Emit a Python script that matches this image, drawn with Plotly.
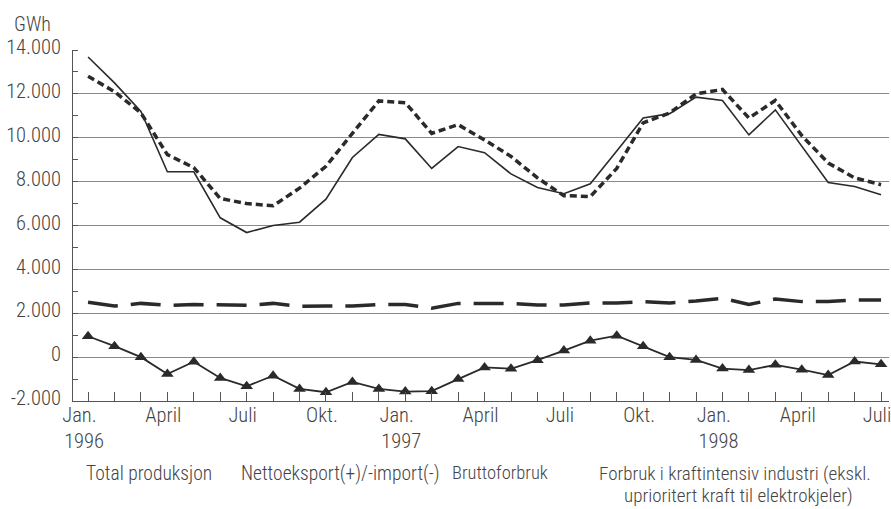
import plotly.graph_objects as go

months = list(range(31))
tick_pos = [0, 3, 6, 9, 12, 15, 18, 21, 24, 27, 30]
NB = "\u00a0\u00a0"
tick_text = ["Jan." + NB + "<br>1996", "April", "Juli", "Okt.", "Jan." + NB + "<br>1997", "April", "Juli",
             "Okt.", "Jan." + NB + "<br>1998", "April", "Juli"]
y_tickvals = [-2000, 0, 2000, 4000, 6000, 8000, 10000, 12000, 14000]
y_ticktext = ["-2.000", "0", "2.000", "4.000", "6.000", "8.000", "10.000", "12.000", "14.000"]

total_produksjon = [13680, 12500, 11200, 8450, 8450, 6350, 5680, 6000, 6150, 7200, 9100,
                    10150, 9950, 8600, 9600, 9320, 8350, 7730, 7450, 7900, 9400, 10900,
                    11100, 11850, 11700, 10130, 11270, 9630, 7960, 7780, 7400]
bruttoforbruk = [12800, 12100, 11130, 9230, 8640, 7230, 7000, 6900, 7700, 8700, 10200,
                 11680, 11600, 10200, 10600, 9900, 9150, 8170, 7360, 7320, 8600, 10680,
                 11130, 12000, 12200, 10900, 11700, 10100, 8850, 8170, 7860]
industri = [2500, 2330, 2450, 2360, 2400, 2360, 2360, 2450, 2320, 2330, 2330, 2400, 2400,
            2230, 2450, 2450, 2450, 2380, 2380, 2470, 2470, 2530, 2470, 2560, 2680, 2400,
            2650, 2530, 2530, 2600, 2600]
nettoeksport = [950, 500, 0, -770, -210, -950, -1330, -850, -1450, -1600, -1130, -1450,
                -1570, -1550, -1000, -470, -530, -140, 300, 750, 980, 500, 0, -130, -520,
                -590, -350, -570, -820, -200, -330]

series_names = ["Total produksjon", "Nettoeksport(+)/-import(-)", "Bruttoforbruk",
                "Forbruk i kraftintensiv industri (ekskl. uprioritert kraft til elektrokjeler)"]
legend_lines = ["Total produksjon", "Nettoeksport(+)/-import(-)", "Bruttoforbruk",
                "Forbruk i kraftintensiv industri (ekskl.", "uprioritert kraft til elektrokjeler)"]

FONT = "Roboto Condensed, Roboto, sans-serif"
TXT = "#444444"
INK = "#2a2a2a"

fig = go.Figure()
fig.add_trace(go.Scatter(x=months, y=industri, mode="lines", name=series_names[3],
                         line=dict(color=INK, width=3.5, dash="30px,13px")))
fig.add_trace(go.Scatter(x=months, y=bruttoforbruk, mode="lines", name=series_names[2],
                         line=dict(color=INK, width=3.5, dash="7px,4px")))
fig.add_trace(go.Scatter(x=months, y=total_produksjon, mode="lines", name=series_names[0],
                         line=dict(color=INK, width=1.6)))
fig.add_trace(go.Scatter(x=months, y=nettoeksport, mode="lines+markers", name=series_names[1],
                         line=dict(color=INK, width=1.8),
                         marker=dict(symbol="triangle-up", size=11, color=INK)))

L, R, T, B = 73, 0, 50, 108
W, H = 891, 509
pw, ph = W - L - R, H - T - B

def px_x(p):
    return (p - L) / pw

def px_y(p):
    return (H - B - p) / ph

centers_x = [149, 341, 501, 737, 740]
centers_y = [473, 473, 473, 473, 495]
sizes = [19.5, 19.5, 18.5, 19, 19]
for lab, cx, cy, sz in zip(legend_lines, centers_x, centers_y, sizes):
    fig.add_annotation(x=px_x(cx), y=px_y(cy), xref="paper", yref="paper", text=lab,
                       showarrow=False, xanchor="center", yanchor="middle",
                       font=dict(family=FONT, size=sz, color=TXT, weight=300), align="center")

fig.add_annotation(x=px_x(12), y=px_y(24), xref="paper", yref="paper", text="GWh",
                   showarrow=False, xanchor="left", yanchor="middle",
                   font=dict(family=FONT, size=20, color=TXT, weight=300))

fig.update_layout(
    width=W, height=H,
    margin=dict(l=L, r=R, t=T, b=B),
    paper_bgcolor="white", plot_bgcolor="white",
    showlegend=False,
    font=dict(family=FONT, size=20, color=TXT, weight=300),
)
fig.update_xaxes(
    range=[-0.57, 30.3], tickmode="array", tickvals=tick_pos, ticktext=tick_text,
    showgrid=False, zeroline=False, showline=True, linecolor="#555", linewidth=1,
    ticks="inside", ticklen=9, tickcolor="#555", ticklabelshift=-4, ticklabelstandoff=-5,
    ticklabeloverflow="allow",
    minor=dict(dtick=1, tick0=0, ticks="inside", ticklen=9, tickcolor="#555", showgrid=False),
    tickfont=dict(family=FONT, size=20.5, color=TXT, weight=300),
)
fig.update_yaxes(
    range=[-2000, 14000], tickmode="array", tickvals=y_tickvals, ticktext=y_ticktext,
    showgrid=True, gridcolor="#8a8a8a", gridwidth=1, zeroline=False,
    showline=True, linecolor="#555", linewidth=1, ticks="", ticklabelstandoff=7,
    ticklabelshift=-3,
    minor=dict(dtick=1000, tick0=1000, ticks="inside", ticklen=5, tickcolor="#555", showgrid=False),
    tickfont=dict(family=FONT, size=20.5, color=TXT, weight=300),
)

fig.write_html("out.html", config={"displayModeBar": False},
               post_script="document.body.style.margin='0';document.body.style.overflow='hidden';")
